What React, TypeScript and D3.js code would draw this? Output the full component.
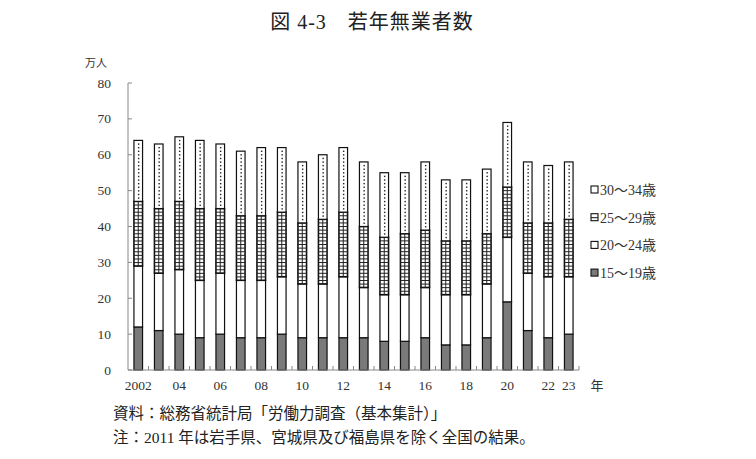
import React from "react";
import * as d3 from "d3";

const years = ["2002","2003","2004","2005","2006","2007","2008","2009","2010","2011","2012","2013","2014","2015","2016","2017","2018","2019","2020","2021","2022","2023"];
const tickLabels = ["2002","","04","","06","","08","","10","","12","","14","","16","","18","","20","","22","23"];
const age15_19 = [12,11,10,9,10,9,9,10,9,9,9,9,8,8,9,7,7,9,19,11,9,10];
const age20_24 = [17,16,18,16,17,16,16,16,15,15,17,14,13,13,14,14,14,15,18,16,17,16];
const age25_29 = [18,18,19,20,18,18,18,18,17,18,18,17,16,17,16,15,15,14,14,14,15,16];
const age30_34 = [17,18,18,19,18,18,19,18,17,18,18,18,18,17,19,17,17,18,18,17,16,16];
const seriesNames = ["15～19歳","20～24歳","25～29歳","30～34歳"];
const yTicks = [0,10,20,30,40,50,60,70,80];

const W = 756, H = 459;
const X0 = 128, X1 = 579, Y0 = 370, Y1 = 83;
const font = "'Liberation Serif', 'Noto Sans CJK JP', serif";
const jfont = "'Noto Sans CJK JP', 'Liberation Serif', serif";

export default function App() {
  const x = d3.scaleBand<string>().domain(years).range([X0, X1]).paddingInner(0.58).paddingOuter(0.29);
  const y = d3.scaleLinear().domain([0, 80]).range([Y0, Y1]);
  const band = d3.scaleBand<string>().domain(years).range([X0, X1]);
  const data = years.map((yr, i) => ({ yr, v: [age15_19[i], age20_24[i], age25_29[i], age30_34[i]] }));
  const stacked = d3.stack<any>().keys([0,1,2,3] as any).value((d: any, k: any) => d.v[k])(data as any);
  const bw = x.bandwidth();

  return (
    <svg width={W} height={H} style={{ position: "absolute", left: 0, top: 0, background: "#fff" }}>
      <rect width={W} height={H} fill="#fff" />
      <text x={372} y={29} textAnchor="middle" fontSize={20} fontFamily={font} fill="#222" letterSpacing={1}>図 4-3　若年無業者数</text>
      {/* y axis */}
      <line x1={X0} x2={X0} y1={Y1} y2={Y0} stroke="#888" strokeWidth={1} />
      {yTicks.map(t => (
        <g key={t}>
          <line x1={X0} x2={X0 + 4} y1={y(t)} y2={y(t)} stroke="#888" />
          <text x={111} y={y(t) + 4.5} textAnchor="end" fontSize={13.5} fontFamily={font} fill="#333">{t}</text>
        </g>
      ))}
      <text x={96} y={67} textAnchor="middle" fontSize={11} fontFamily={jfont} fill="#333">万人</text>
      {/* bars */}
      {stacked.map((layer, k) => (
        <g key={k}>
          {layer.map((d: any, i: number) => {
            const bx = x(years[i])!;
            const top = y(d[1]);
            const bot = y(d[0]);
            const h = bot - top;
            const fill = k === 0 ? "#7a7a7a" : "#fff";
            const marks: any[] = [];
            if (k === 2) {
              marks.push(<line key="v" x1={bx + bw / 2} x2={bx + bw / 2} y1={top} y2={bot} stroke="#222" strokeWidth={1} />);
              d3.range(top + 3.6, bot - 1, 3.6).forEach((yy, j) =>
                marks.push(<line key={"h" + j} x1={bx} x2={bx + bw} y1={yy} y2={yy} stroke="#222" strokeWidth={1} />));
            }
            if (k === 3) {
              d3.range(top + 3, bot - 1, 3.6).forEach((yy, j) =>
                marks.push(<rect key={"d" + j} x={bx + bw / 2 - 0.3} y={yy} width={1.4} height={1.4} fill="#222" />));
            }
            return (
              <g key={i}>
                <rect x={bx} y={top} width={bw} height={h} fill={fill} stroke="#111" strokeWidth={k === 2 ? 1.6 : 1.2} />
                {marks}
              </g>
            );
          })}
        </g>
      ))}
      {/* x axis */}
      <line x1={X0} x2={X1} y1={Y0} y2={Y0} stroke="#888" strokeWidth={1} />
      {years.map((yr) => (
        <line key={yr} x1={band(yr)! + band.bandwidth()} x2={band(yr)! + band.bandwidth()} y1={Y0} y2={Y0 - 4} stroke="#888" />
      ))}
      {years.map((yr, i) => tickLabels[i] ? (
        <text key={yr} x={band(yr)! + band.bandwidth() / 2} y={390} textAnchor="middle" fontSize={13.5} fontFamily={font} fill="#333">{tickLabels[i]}</text>
      ) : null)}
      <text x={597} y={390} textAnchor="middle" fontSize={13} fontFamily={jfont} fill="#333">年</text>
      {/* legend */}
      {[3,2,1,0].map((k, r) => {
        const cy = 190 + r * 27.7;
        return (
          <g key={k}>
            <rect x={591} y={cy - 4} width={7} height={7} fill={k === 0 ? "#7a7a7a" : "#fff"} stroke="#111" strokeWidth={1.1} />
            {k === 2 ? <line x1={591} x2={598} y1={cy} y2={cy} stroke="#111" /> : null}
            <text x={600} y={cy + 5} fontSize={14} fontFamily={font} fill="#333">{seriesNames[k]}</text>
          </g>
        );
      })}
      <text x={113} y={419} fontSize={15.5} fontFamily={font} fill="#222">資料：総務省統計局「労働力調査（基本集計）」</text>
      <text x={113} y={443} fontSize={15.5} fontFamily={font} fill="#222">注：2011 年は岩手県、宮城県及び福島県を除く全国の結果。</text>
    </svg>
  );
}
